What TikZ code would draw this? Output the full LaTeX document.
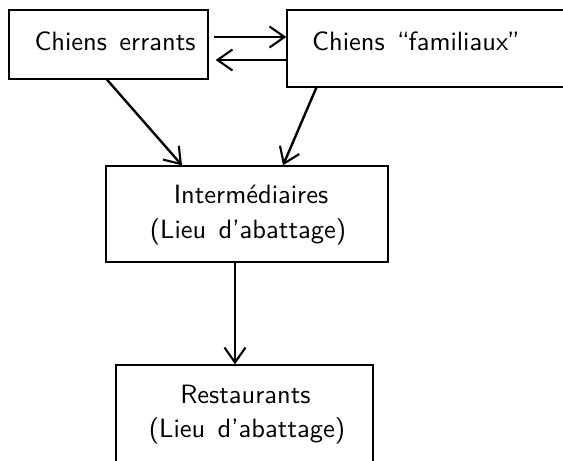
\documentclass[tikz,border=0pt]{standalone}
\usepackage{fontspec}
\newfontfamily\diagfont{lmsans10-regular.otf}[WordSpace=1.4]
\usetikzlibrary{arrows.meta}
\begin{document}
\begin{tikzpicture}[x=1pt,y=-1pt,
  box/.style={draw,line width=1.3pt,inner sep=0pt,minimum width=#1},
  txt/.style={font=\fontsize{26.5}{32}\diagfont,inner sep=0pt},
  link/.style={line width=2.4pt,-{Straight Barb[length=15pt,width=21pt,line width=2.1pt]}}]
  \useasboundingbox (0,0) rectangle (563,461);
  % boxes
  \node[box=199pt,minimum height=69pt] (b1) at (108.5,44.5) {};
  \node[box=293pt,minimum height=77pt] (b2) at (433.5,48.5) {};
  \node[box=282pt,minimum height=96pt] (b3) at (247,214) {};
  \node[box=257pt,minimum height=115pt] (b4) at (244.5,422.5) {};
  % labels
  \node[txt,anchor=base] (t1) at (115,50) {Chiens errants};
  \node[txt,anchor=base west] (t2) at (312,50) {Chiens “\kern-1pt familiaux\kern-1pt”};
  \node[txt,anchor=base] (t3a) at (251,203) {Intermédiaires};
  \node[txt,anchor=base] (t3b) at (248,238) {(Lieu d’abattage)};
  \node[txt,anchor=base] (t4a) at (245.5,403) {Restaurants};
  \node[txt,anchor=base] (t4b) at (247,437) {(Lieu d’abattage)};
  % connectors
  \draw[link] ([xshift=5pt,yshift=7.5pt]b1.east) -- ([yshift=11.5pt]b2.west);
  \draw[link] ([yshift=-11.5pt]b2.west) -- ([xshift=7pt,yshift=-15.5pt]b1.east);
  \draw[link] ([xshift=-1.5pt]b1.south) -- ([xshift=-65pt]b3.north);
  \draw[link] ([xshift=30pt]b2.south west) -- ([xshift=36pt]b3.north);
  \draw[link] ([xshift=-12pt]b3.south) -- ([xshift=-9.5pt]b4.north);
\end{tikzpicture}
\end{document}
